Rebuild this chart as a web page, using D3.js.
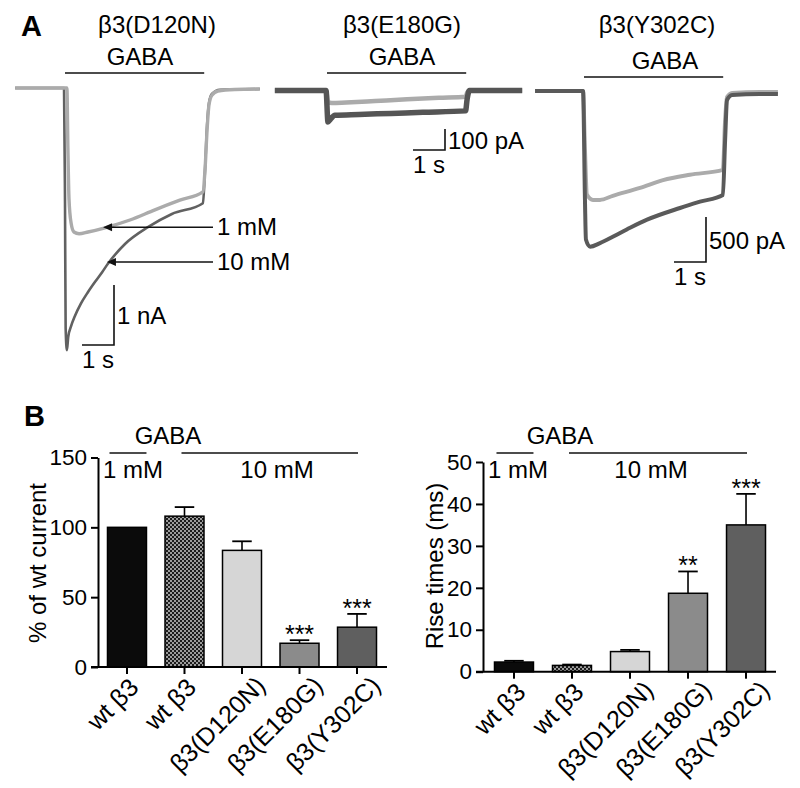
<!DOCTYPE html>
<html><head><meta charset="utf-8">
<script src="https://cdn.jsdelivr.net/npm/d3@7"></script>
<style>
body{margin:0;background:#fff}
svg{display:block}
text{font-family:Arial,"Liberation Sans",Helvetica,sans-serif;fill:#000}
</style>
</head><body>
<svg id="c" width="800" height="788"></svg>
<script>
// ---------------- DATA ----------------
// Panel A: traces, time (s) from GABA onset, current
const panelTitles = ["β3(D120N)", "β3(E180G)", "β3(Y302C)"];
const gabaWindow = [0, 4.35];   // s
// D120N (nA)
const d120n_1mM = [[-1.56,0],[0.06,0],[0.09,-1.0],[0.125,-1.85],[0.19,-2.25],[0.28,-2.4],[0.44,-2.43],[0.72,-2.4],[1.25,-2.33],[2.03,-2.2],[2.81,-2.03],[3.59,-1.87],[4.31,-1.73],[4.375,-1.37],[4.44,-0.7],[4.5,-0.28],[4.59,-0.12],[4.78,-0.05],[5.31,-0.025],[6.09,-0.017]];
const d120n_10mM = [[-1.56,0],[-0.03,0],[0.0,-1.9],[0.02,-4.0],[0.06,-4.37],[0.1,-4.15],[0.19,-3.97],[0.31,-3.8],[0.5,-3.59],[0.72,-3.4],[0.94,-3.23],[1.16,-3.07],[1.34,-2.93],[1.875,-2.6],[2.59,-2.32],[3.34,-2.1],[4.31,-1.92],[4.375,-1.37],[4.44,-0.62],[4.5,-0.25],[4.59,-0.1],[4.84,-0.03],[6.09,-0.017]];
// E180G (pA)
const e180g_1mM = [[-1.63,0],[-0.03,0],[0.03,-55],[0.15,-60],[0.6,-57],[1.5,-50],[2.5,-42],[3.5,-35],[4.33,-30],[4.38,-10],[4.45,0],[6.1,0]];
const e180g_10mM = [[-1.63,0],[-0.03,0],[0.03,-150],[0.1,-138],[0.25,-118],[1,-114],[2,-109],[3,-104],[4.33,-97],[4.38,-40],[4.45,0],[6.1,0]];
// Y302C (pA)
const y302c_1mM = [[-1.53,0],[-0.03,0],[0.03,-655],[0.09,-1150],[0.28,-1210],[0.5,-1210],[0.9,-1165],[1.75,-1077],[2.47,-990],[3.31,-930],[4.34,-877],[4.41,-322],[4.47,-67],[4.63,-22],[5.5,-11],[6.06,-11]];
const y302c_10mM = [[-1.53,0],[-0.03,0],[0.03,-1210],[0.06,-1650],[0.19,-1730],[0.5,-1690],[0.9,-1620],[1.44,-1520],[1.97,-1430],[3.0,-1300],[3.625,-1230],[4.34,-1155],[4.41,-544],[4.47,-100],[4.63,-44],[5.5,-33],[6.06,-33]];
// arrow targets in D120N panel [t, nA]
const arrowTargets = [[1.19,-2.32],[1.31,-2.9]];
const arrowLabels = ["1 mM", "10 mM"];
const scaleBarLabels = [["1 nA","1 s"],["100 pA","1 s"],["500 pA","1 s"]];

// Panel B
const categories = ["wt β3","wt β3","β3(D120N)","β3(E180G)","β3(Y302C)"];
const currentMean = [100, 108, 83.5, 17, 28.5];
const currentSEM  = [0, 6.5, 6.5, 2.2, 9.5];
const currentStars = ["","","","***","***"];
const currentTicks = [0, 50, 100, 150];
const riseMean = [2.3, 1.5, 4.8, 18.7, 35.0];
const riseSEM  = [0.3, 0.2, 0.4, 5.2, 7.4];
const riseStars = ["","","","**","***"];
const riseTicks = [0, 10, 20, 30, 40, 50];
const concLabels = ["1 mM", "10 mM"];

// ---------------- DRAW ----------------
const svg = d3.select("#c");
svg.append("rect").attr("width",800).attr("height",788).attr("fill","#fff");
const defs = svg.append("defs");
const pat = defs.append("pattern").attr("id","checker").attr("patternUnits","userSpaceOnUse").attr("width",4).attr("height",4);
pat.append("rect").attr("width",4).attr("height",4).attr("fill","#9c9c9c");
pat.append("rect").attr("width",2).attr("height",2).attr("fill","#1c1c1c");
pat.append("rect").attr("x",2).attr("y",2).attr("width",2).attr("height",2).attr("fill","#1c1c1c");

const LIGHT = "#ababab", DARK = "#616161";
const FS = 24;
const FONT = 'Arial,"Liberation Sans",sans-serif';

svg.append("text").attr("x",21).attr("y",36).attr("font-size",29).attr("font-weight","bold").text("A");
svg.append("text").attr("x",24).attr("y",426).attr("font-size",29).attr("font-weight","bold").text("B");

function tracePanel(cfg){
  const x = d3.scaleLinear().domain([0,1]).range([cfg.x0, cfg.x0 + 32]);
  const y = d3.scaleLinear().domain([0, -cfg.unit]).range([cfg.y0, cfg.y0 + cfg.unitPx]);
  const line = d3.line().x(d=>x(d[0])).y(d=>y(d[1])).curve(d3.curveMonotoneX);
  const g = svg.append("g");
  cfg.traces.forEach(tr=>{
    g.append("path").attr("d", line(tr.data)).attr("fill","none")
      .attr("stroke", tr.color).attr("stroke-width", tr.w)
      .attr("stroke-linejoin","round").attr("stroke-linecap","butt");
  });
  g.append("text").attr("x", cfg.titleX).attr("y", 33).attr("text-anchor","middle").attr("font-size",FS).text(cfg.title);
  g.append("line").attr("x1", x(gabaWindow[0])).attr("x2", x(gabaWindow[1]))
    .attr("y1", cfg.gabaY).attr("y2", cfg.gabaY).attr("stroke","#111").attr("stroke-width",1.6);
  g.append("text").attr("x", cfg.gabaTextX).attr("y", cfg.gabaY - 8).attr("text-anchor","middle").attr("font-size",FS).text("GABA");
  const [cx, cy] = cfg.sb;
  const hw = x(1) - x(0), vh = y(-cfg.unit) - y(0);
  g.append("path").attr("d", `M${cx-hw},${cy}H${cx}V${cy-vh}`).attr("fill","none").attr("stroke","#111").attr("stroke-width",1.6);
  g.append("text").attr("x", cx + 3).attr("y", cy - vh/2 + 9).attr("font-size",FS).text(cfg.sbLabels[0]);
  g.append("text").attr("x", cx - hw/2).attr("y", cy + 23).attr("text-anchor","middle").attr("font-size",FS).text(cfg.sbLabels[1]);
  return {x, y, g};
}

const p1 = tracePanel({x0:65, y0:88, unit:1, unitPx:60, title:panelTitles[0], titleX:157, gabaY:73, gabaTextX:140,
  sb:[114,345], sbLabels:scaleBarLabels[0],
  traces:[{data:d120n_10mM,color:DARK,w:2.6},{data:d120n_1mM,color:LIGHT,w:3.4}]});
const p2 = tracePanel({x0:327, y0:90.5, unit:100, unitPx:21, title:panelTitles[1], titleX:402, gabaY:73, gabaTextX:402,
  sb:[445,150], sbLabels:scaleBarLabels[1],
  traces:[{data:e180g_1mM,color:LIGHT,w:4.5},{data:e180g_10mM,color:"#555",w:5.5}]});
const p3 = tracePanel({x0:584, y0:91, unit:500, unitPx:45, title:panelTitles[2], titleX:657, gabaY:77, gabaTextX:665,
  sb:[706,262], sbLabels:scaleBarLabels[2],
  traces:[{data:y302c_1mM,color:LIGHT,w:4},{data:y302c_10mM,color:"#5a5a5a",w:4}]});

arrowTargets.forEach((a,i)=>{
  const tx = p1.x(a[0]), ty = p1.y(a[1]);
  p1.g.append("line").attr("x1", tx+6).attr("x2", 213).attr("y1", ty).attr("y2", ty).attr("stroke","#111").attr("stroke-width",1.5);
  p1.g.append("path").attr("d", `M${tx},${ty}L${tx+9},${ty-4}L${tx+9},${ty+4}Z`).attr("fill","#111");
  p1.g.append("text").attr("x", 217).attr("y", ty + 8).attr("font-size",FS).text(arrowLabels[i]);
});

// ---------------- Bar charts ----------------
const fills = ["#0b0b0b","url(#checker)","#d6d6d6","#8b8b8b","#5f5f5f"];

function barChart(cfg){
  const g = svg.append("g");
  const x = d3.scaleBand().domain(d3.range(categories.length)).range([cfg.ax, cfg.x1]).paddingInner(cfg.pi).paddingOuter(cfg.po);
  const y = d3.scaleLinear().domain([0, cfg.ticks[cfg.ticks.length-1]]).range([cfg.yb, cfg.yt]);
  const bw = x.bandwidth();
  cfg.mean.forEach((m,i)=>{
    if (cfg.sem[i] <= 0) return;
    const cxp = x(i) + bw/2;
    g.append("line").attr("x1",cxp).attr("x2",cxp).attr("y1",y(m)).attr("y2",y(m+cfg.sem[i])).attr("stroke","#000").attr("stroke-width",1.6);
    g.append("line").attr("x1",cxp-bw/4).attr("x2",cxp+bw/4).attr("y1",y(m+cfg.sem[i])).attr("y2",y(m+cfg.sem[i])).attr("stroke","#000").attr("stroke-width",1.8);
  });
  g.selectAll("rect.bar").data(cfg.mean).join("rect").attr("class","bar")
    .attr("x",(d,i)=>x(i)).attr("y",d=>y(d)).attr("width",bw).attr("height",d=>y(0)-y(d))
    .attr("fill",(d,i)=>fills[i]).attr("stroke","#000").attr("stroke-width",1.5);
  cfg.mean.forEach((m,i)=>{
    if (!cfg.stars[i]) return;
    g.append("text").attr("x", x(i)+bw/2).attr("y", y(m+cfg.sem[i]) + 3).attr("text-anchor","middle").attr("font-size",25).text(cfg.stars[i]);
  });
  const ya = g.append("g").attr("transform",`translate(${cfg.ax},0)`)
    .call(d3.axisLeft(y).tickValues(cfg.ticks).tickSize(7).tickPadding(4).tickSizeOuter(0));
  ya.select(".domain").attr("stroke","#000").attr("stroke-width",2);
  ya.selectAll(".tick line").attr("stroke","#000").attr("stroke-width",2);
  ya.selectAll(".tick text").attr("font-size",22.5).attr("font-family",FONT).attr("fill","#000");
  const xa = g.append("g").attr("transform",`translate(0,${cfg.yb})`)
    .call(d3.axisBottom(x).tickSize(7).tickSizeOuter(0).tickFormat(i=>categories[i]));
  xa.select(".domain").remove();
  g.append("line").attr("x1",cfg.ax-7).attr("x2",cfg.xEnd).attr("y1",cfg.yb).attr("y2",cfg.yb).attr("stroke","#000").attr("stroke-width",2);
  xa.selectAll(".tick line").attr("stroke","#000").attr("stroke-width",2);
  xa.selectAll(".tick text").attr("font-size",25).attr("font-family",FONT).attr("fill","#000")
    .attr("text-anchor","end").attr("dy",null).attr("y",null)
    .attr("transform",i=> categories[i].length > 6 ? "translate(25,20) rotate(-45)" : "translate(13,22) rotate(-45)");
  g.append("text").attr("transform",`translate(${cfg.labX},${cfg.labY}) rotate(-90)`).attr("text-anchor","middle").attr("font-size",FS).text(cfg.ylabel);
  const c1 = x(1) + bw/2, c4 = x(4) + bw/2;
  g.append("text").attr("x", cfg.gabaX).attr("y", 444).attr("text-anchor","middle").attr("font-size",FS).text("GABA");
  g.append("line").attr("x1", x(0)+2).attr("x2", x(0)+bw).attr("y1",453).attr("y2",453).attr("stroke","#111").attr("stroke-width",1.6);
  g.append("line").attr("x1", c1-3).attr("x2", c4+1).attr("y1",453).attr("y2",453).attr("stroke","#111").attr("stroke-width",1.6);
  g.append("text").attr("x", cfg.ax + 5).attr("y", 478).attr("font-size",FS).text(concLabels[0]);
  g.append("text").attr("x", cfg.tenX).attr("y", 478).attr("text-anchor","middle").attr("font-size",FS).text(concLabels[1]);
}

barChart({ax:98, x1:386, pi:0.322, po:0.165, yb:667, yt:457.5, ticks:currentTicks,
  mean:currentMean, sem:currentSEM, stars:currentStars, xEnd:387,
  ylabel:"% of wt current", labX:46, labY:563, gabaX:168, tenX:277});
barChart({ax:483, x1:777, pi:0.328, po:0.198, yb:671.7, yt:462, ticks:riseTicks,
  mean:riseMean, sem:riseSEM, stars:riseStars, xEnd:776,
  ylabel:"Rise times (ms)", labX:443, labY:566, gabaX:560, tenX:651});
</script>
</body></html>
